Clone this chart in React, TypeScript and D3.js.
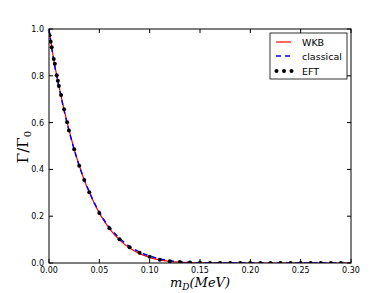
import * as d3 from 'd3'

// EFT points
const eftX = [0.0005, 0.0017, 0.0027, 0.0047, 0.0058, 0.0077, 0.0088, 0.0098, 0.012, 0.015, 0.018, 0.0198,
  0.025, 0.03, 0.035, 0.04, 0.05, 0.06, 0.07, 0.08, 0.09, 0.10, 0.11, 0.12, 0.13, 0.14, 0.15, 0.16, 0.17,
  0.18, 0.19, 0.20, 0.21, 0.22, 0.23, 0.24, 0.25, 0.26, 0.27, 0.28, 0.29]
const eftY = [0.973, 0.946, 0.922, 0.872, 0.852, 0.802, 0.779, 0.756, 0.718, 0.657, 0.601, 0.566,
  0.486, 0.416, 0.355, 0.302, 0.214, 0.148, 0.101, 0.067, 0.044, 0.027, 0.014, 0.008, 0.004, 0.002, 0.001,
  0.0005, 0.0002, 0, 0, 0, 0, 0, 0, 0, 0, 0, 0, 0, 0]

// WKB curve
const wkbX = [0, 0.005, 0.01, 0.015, 0.02, 0.025, 0.03, 0.035, 0.04, 0.05, 0.06, 0.07, 0.08, 0.09, 0.10,
  0.11, 0.12, 0.13, 0.14, 0.15, 0.17, 0.20, 0.30]
const wkbY = [1.0, 0.862, 0.755, 0.655, 0.567, 0.487, 0.417, 0.355, 0.302, 0.213, 0.147, 0.099, 0.064,
  0.040, 0.024, 0.013, 0.007, 0.0035, 0.0015, 0.0006, 0.0001, 0, 0]

// classical curve
const clsX = [0, 0.005, 0.01, 0.015, 0.02, 0.025, 0.03, 0.035, 0.04, 0.05, 0.06, 0.07, 0.08, 0.09, 0.10,
  0.11, 0.12, 0.13, 0.14, 0.15, 0.17, 0.20, 0.30]
const clsY = [1.0, 0.857, 0.750, 0.651, 0.563, 0.485, 0.416, 0.356, 0.304, 0.217, 0.153, 0.106, 0.071,
  0.047, 0.030, 0.018, 0.010, 0.005, 0.0025, 0.001, 0.0002, 0, 0]

const xTicks = [0, 0.05, 0.1, 0.15, 0.2, 0.25, 0.3]
const yTicks = [0, 0.2, 0.4, 0.6, 0.8, 1.0]

const W = 390
const H = 293
const m = { left: 49, right: 351, top: 29, bottom: 263 }

export default function App() {
  const x = d3.scaleLinear().domain([0, 0.3]).range([m.left, m.right])
  const y = d3.scaleLinear().domain([0, 1]).range([m.bottom, m.top])

  const line = d3.line<[number, number]>()
    .x(d => x(d[0]))
    .y(d => y(d[1]))
    .curve(d3.curveMonotoneX)

  const wkb = line(wkbX.map((v, i) => [v, wkbY[i]])) || ''
  const cls = line(clsX.map((v, i) => [v, clsY[i]])) || ''

  const tickFont = { fontFamily: 'DejaVu Sans', fontSize: 8 }
  const lx = 270, ly = 33

  return (
    <svg width={W} height={H} style={{ position: 'absolute', left: 0, top: 0, background: '#fff' }}>
      <defs>
        <clipPath id="plot">
          <rect x={m.left} y={m.top} width={m.right - m.left} height={m.bottom - m.top} />
        </clipPath>
      </defs>
      <g clipPath="url(#plot)">
        <path d={wkb} fill="none" stroke="#ff0000" strokeWidth={1.2} />
        <path d={cls} fill="none" stroke="#0000ff" strokeWidth={1.5} strokeDasharray="5,4" />
        {eftX.map((v, i) => (
          <circle key={i} cx={x(v)} cy={y(eftY[i])} r={2} fill="#000" />
        ))}
      </g>
      <rect x={m.left} y={m.top} width={m.right - m.left} height={m.bottom - m.top}
        fill="none" stroke="#000" strokeWidth={1} />
      {xTicks.map(t => (
        <g key={'x' + t}>
          <line x1={x(t)} x2={x(t)} y1={m.bottom} y2={m.bottom - 4} stroke="#000" />
          <line x1={x(t)} x2={x(t)} y1={m.top} y2={m.top + 4} stroke="#000" />
          <text x={x(t)} y={m.bottom + 10} textAnchor="middle" {...tickFont}>{d3.format('.2f')(t)}</text>
        </g>
      ))}
      {yTicks.map(t => (
        <g key={'y' + t}>
          <line x1={m.left} x2={m.left + 4} y1={y(t)} y2={y(t)} stroke="#000" />
          <line x1={m.right} x2={m.right - 4} y1={y(t)} y2={y(t)} stroke="#000" />
          <text x={m.left - 5} y={y(t) + 3} textAnchor="end" {...tickFont}>{d3.format('.1f')(t)}</text>
        </g>
      ))}
      <g>
        <rect x={lx} y={ly} width={77} height={46} fill="#fff" stroke="#000" strokeWidth={0.8} />
        <line x1={lx + 6} x2={lx + 21} y1={ly + 9} y2={ly + 9} stroke="#ff0000" strokeWidth={1.2} />
        <line x1={lx + 6} x2={lx + 21} y1={ly + 23} y2={ly + 23} stroke="#0000ff" strokeWidth={1.5} strokeDasharray="5,4" />
        {[0, 1, 2].map(k => (
          <circle key={k} cx={lx + 6.5 + k * 7.5} cy={ly + 38} r={2} fill="#000" />
        ))}
        <text x={lx + 32} y={ly + 12.5} fontFamily="DejaVu Sans" fontSize={9.5}>WKB</text>
        <text x={lx + 32} y={ly + 26.5} fontFamily="DejaVu Sans" fontSize={9.5}>classical</text>
        <text x={lx + 32} y={ly + 41.5} fontFamily="DejaVu Sans" fontSize={9.5}>EFT</text>
      </g>
      <text transform={`translate(28,147) rotate(-90)`} textAnchor="middle" fontFamily="DejaVu Serif" fontSize={15}>
        Γ/Γ<tspan fontSize={10} dy={3}>0</tspan>
      </text>
      <text x={200} y={287} textAnchor="middle" fontFamily="DejaVu Serif" fontSize={13} fontStyle="italic">
        m<tspan fontSize={9} dy={3}>D</tspan><tspan dy={-3}>(MeV)</tspan>
      </text>
    </svg>
  )
}
